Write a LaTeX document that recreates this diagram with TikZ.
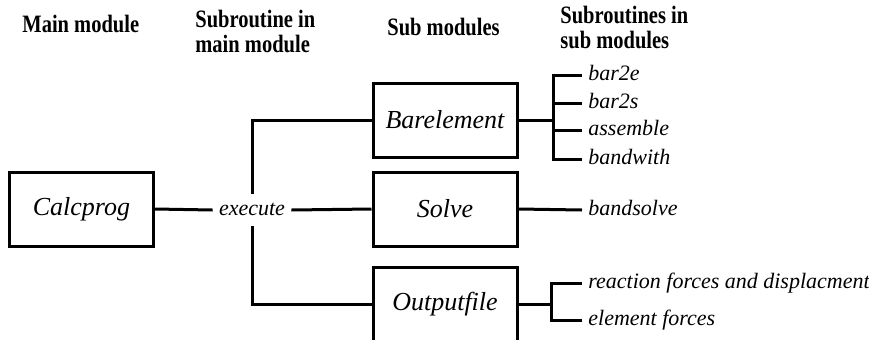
\documentclass[tikz,border=0pt]{standalone}
\usepackage{fontspec}
\setmainfont{Liberation Serif}
\usetikzlibrary{positioning}
\newcommand{\hdr}[1]{\scalebox{0.82}[1]{#1}}
\tikzset{
  modbox/.style={draw, line width=1.5pt, minimum width=72pt, minimum height=37pt, inner sep=0pt, font=\fontsize{13}{15}\selectfont\itshape},
  sublbl/.style={anchor=west, inner sep=3pt, text height=1.6ex, text depth=.4ex, font=\fontsize{11}{13}\selectfont\itshape},
  hdrtxt/.style={align=left, inner sep=0pt, anchor=base west, font=\fontsize{12.5}{12.5}\selectfont\bfseries},
  conn/.style={line width=1.5pt}
}

\begin{document}
\begin{tikzpicture}[x=0.5pt,y=-0.5pt]
\useasboundingbox (0,0) rectangle (869,339);

\node[hdrtxt] (hmain) at (22,32) {\hdr{Main module}};
\node[hdrtxt] (hsubr) at (195,52) {\hdr{Subroutine in}\\\hdr{main module}};
\node[hdrtxt] (hsubm) at (387,35) {\hdr{Sub modules}};
\node[hdrtxt] (hsubs) at (560,48) {\hdr{Subroutines in}\\\hdr{sub modules}};

\node[modbox] (calcprog) at (81.5,209) {Calcprog};
\node[sublbl, anchor=center] (execute) at (252,210) {execute};
\node[modbox] (barelement) at (445,120) {Barelement};
\node[modbox] (solve) at (445,209) {Solve};
\node[modbox] (outputfile) at (445,304) {Outputfile};

\node[sublbl] (bar2e) at (582,75) {bar2e};
\node[sublbl] (bar2s) at (582,103) {bar2s};
\node[sublbl] (assemble) at (582,130) {assemble};
\node[sublbl] (bandwith) at (582,159) {bandwith};
\node[sublbl] (bandsolve) at (582,210) {bandsolve};
\node[sublbl] (reaction) at (582,283) {reaction forces and displacment};
\node[sublbl] (elforces) at (582,320) {element forces};

\draw[conn] (calcprog.east) -- (execute.west);
\draw[conn] (execute.east) -- (solve.west);
\draw[conn] (execute.north) |- (barelement.west);
\draw[conn] (execute.south) |- (outputfile.west);

\draw[conn] (barelement.east) -- ++(35,0) coordinate (bj);
\foreach \n in {bar2e,bar2s,assemble,bandwith} \draw[conn] (\n.west) -| (bj);
\draw[conn] (solve.east) -- (bandsolve.west);
\draw[conn] (outputfile.east) -- ++(33,0) coordinate (oj);
\foreach \n in {reaction,elforces} \draw[conn] (\n.west) -| (oj);
\end{tikzpicture}
\end{document}
